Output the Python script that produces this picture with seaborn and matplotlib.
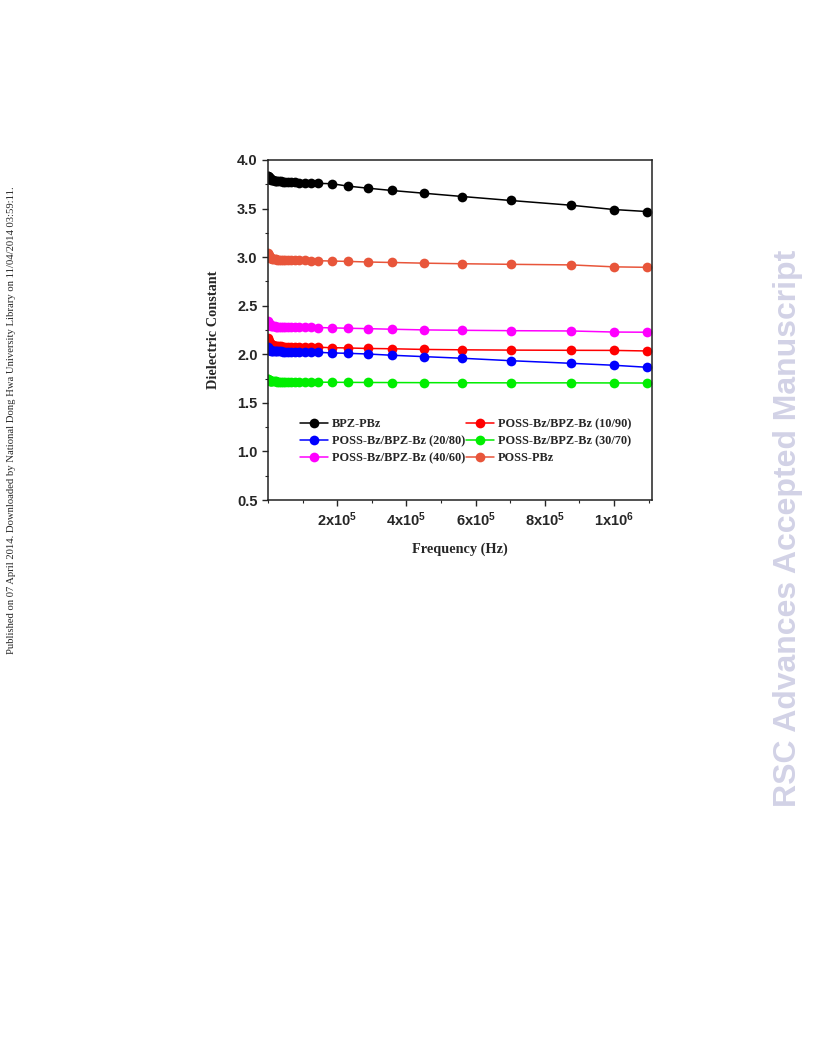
import matplotlib
matplotlib.use("Agg")
import matplotlib.pyplot as plt
import matplotlib.ticker as mticker
import seaborn as sns
import numpy as np

# frequency points (Hz)
freq = [1000, 1400, 2000, 2800, 3900, 5000, 6300, 7900, 10000, 12500,
        15800, 20000, 23000, 27000, 31500, 37000, 43000, 50000, 58000, 68000,
        79000, 91000, 107000, 125000, 146000, 184000, 231000, 288000, 358000, 450000,
        562000, 702000, 877000, 1000000, 1097000]

bpz_pbz = [3.84, 3.83, 3.825, 3.82, 3.815, 3.81, 3.805, 3.80, 3.797, 3.794,
           3.79, 3.787, 3.785, 3.783, 3.781, 3.779, 3.777, 3.775, 3.773, 3.771,
           3.769, 3.767, 3.764, 3.762, 3.759, 3.756, 3.731, 3.71, 3.686, 3.658,
           3.624, 3.583, 3.534, 3.49, 3.469]

poss_10_90 = [2.17, 2.155, 2.14, 2.13, 2.12, 2.113, 2.107, 2.102, 2.098, 2.094,
              2.091, 2.088, 2.086, 2.084, 2.082, 2.081, 2.080, 2.079, 2.078, 2.077,
              2.076, 2.075, 2.074, 2.073, 2.072, 2.068, 2.065, 2.06, 2.057, 2.05,
              2.046, 2.043, 2.041, 2.04, 2.034]

poss_20_80 = [2.07, 2.063, 2.057, 2.052, 2.048, 2.045, 2.042, 2.04, 2.038, 2.036,
              2.034, 2.033, 2.032, 2.031, 2.030, 2.029, 2.028, 2.027, 2.026, 2.025,
              2.024, 2.023, 2.022, 2.021, 2.02, 2.014, 2.01, 2.003, 1.99, 1.976,
              1.959, 1.934, 1.907, 1.887, 1.866]

poss_30_70 = [1.75, 1.745, 1.74, 1.736, 1.733, 1.73, 1.728, 1.726, 1.724, 1.723,
              1.722, 1.721, 1.72, 1.719, 1.718, 1.718, 1.717, 1.717, 1.716, 1.716,
              1.715, 1.715, 1.714, 1.714, 1.713, 1.712, 1.711, 1.71, 1.709, 1.708,
              1.707, 1.706, 1.706, 1.705, 1.704]

poss_40_60 = [2.34, 2.33, 2.322, 2.315, 2.31, 2.305, 2.30, 2.297, 2.294, 2.291,
              2.289, 2.287, 2.285, 2.284, 2.283, 2.282, 2.281, 2.280, 2.279, 2.278,
              2.278, 2.277, 2.277, 2.276, 2.275, 2.272, 2.268, 2.264, 2.258, 2.251,
              2.247, 2.243, 2.24, 2.229, 2.227]

poss_pbz = [3.04, 3.03, 3.02, 3.012, 3.005, 3.0, 2.995, 2.99, 2.987, 2.984,
            2.981, 2.979, 2.977, 2.975, 2.974, 2.973, 2.972, 2.971, 2.970, 2.969,
            2.968, 2.967, 2.966, 2.965, 2.963, 2.96, 2.956, 2.95, 2.945, 2.938,
            2.932, 2.926, 2.92, 2.90, 2.895]

series = [
    ("BPZ-PBz", bpz_pbz, "#000000"),
    ("POSS-Bz/BPZ-Bz (10/90)", poss_10_90, "#ff0000"),
    ("POSS-Bz/BPZ-Bz (20/80)", poss_20_80, "#0000ff"),
    ("POSS-Bz/BPZ-Bz (30/70)", poss_30_70, "#00ee00"),
    ("POSS-Bz/BPZ-Bz (40/60)", poss_40_60, "#ff00ff"),
    ("POSS-PBz", poss_pbz, "#e8553a"),
]

x_ticks = [200000, 400000, 600000, 800000, 1000000]
x_tick_labels = ["2x10$^{5}$", "4x10$^{5}$", "6x10$^{5}$", "8x10$^{5}$", "1x10$^{6}$"]

sns.set_style("ticks")
plt.rcParams["font.family"] = ["Liberation Sans", "DejaVu Sans"]
plt.rcParams["mathtext.fontset"] = "custom"
plt.rcParams["mathtext.rm"] = "Liberation Sans:bold"
plt.rcParams["mathtext.bf"] = "Liberation Sans:bold"
plt.rcParams["mathtext.default"] = "bf"

fig = plt.figure(figsize=(8.16, 10.56), dpi=100)
ax = fig.add_axes([0.3284, 0.5265, 0.4706, 0.322])

for name, vals, col in series:
    sns.lineplot(x=freq, y=vals, ax=ax, color=col, label=name, marker="o",
                 markersize=7, markeredgewidth=0, linewidth=1.1)

ax.set_xlim(0, 1.11e6)
ax.set_ylim(0.5, 4.0)
ax.set_xticks(x_ticks)
ax.set_xticklabels(x_tick_labels)
ax.xaxis.set_minor_locator(mticker.MultipleLocator(100000))
ax.yaxis.set_major_locator(mticker.MultipleLocator(0.5))
ax.yaxis.set_minor_locator(mticker.MultipleLocator(0.25))
ax.yaxis.set_major_formatter(mticker.FormatStrFormatter("%.1f"))
ax.tick_params(which="major", direction="out", length=4, width=1.0, labelsize=10.5)
ax.tick_params(which="minor", direction="out", length=2.5, width=0.8)
for lab in ax.get_yticklabels() + ax.get_xticklabels():
    lab.set_fontweight("bold")

for sp in ax.spines.values():
    sp.set_linewidth(1.1)
    sp.set_color("#222222")

ax.set_xlabel("Frequency (Hz)", family="Liberation Serif", fontweight="bold",
              fontsize=10.3, labelpad=10)
ax.set_ylabel("Dielectric Constant", family="Liberation Serif", fontweight="bold",
              fontsize=10.3, labelpad=12)

handles, labels = ax.get_legend_handles_labels()
order = [0, 2, 4, 1, 3, 5]
ax.legend([handles[i] for i in order], [labels[i] for i in order], ncol=2,
          loc="upper left", bbox_to_anchor=(0.071, 0.255), frameon=False,
          prop={"family": "Liberation Serif", "weight": "bold", "size": 8.8},
          handlelength=2.3, handletextpad=0.3, columnspacing=0.05,
          labelspacing=0.4, borderaxespad=0)

fig.text(0.0147, 0.602, "Published on 07 April 2014. Downloaded by National Dong Hwa "
         "University Library on 11/04/2014 03:59:11.", rotation=90,
         family="Liberation Serif", fontsize=7.7, ha="center", va="center")
fig.text(0.966, 0.5, "RSC Advances Accepted Manuscript", rotation=90,
         family="Liberation Sans", fontweight="bold", fontsize=23,
         color="#d2d2e6", ha="center", va="center")

fig.savefig("out.png", dpi=100)
